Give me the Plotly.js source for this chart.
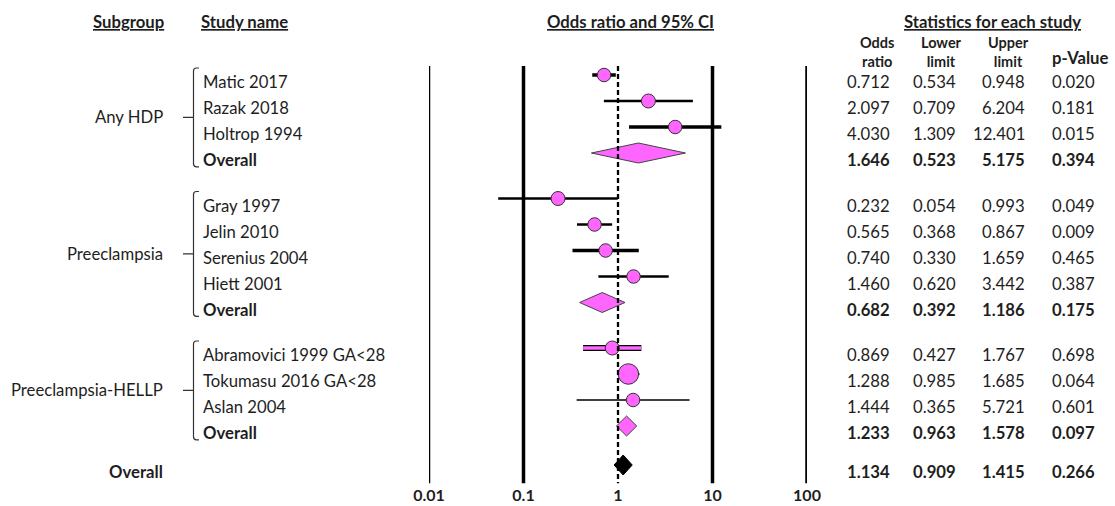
<!DOCTYPE html>
<html>
<head>
<meta charset="utf-8">
<script src="https://cdn.plot.ly/plotly-3.0.1.min.js"></script>
<style>html,body{margin:0;padding:0;background:#fff;}#chart{width:1115px;height:506px;}</style>
</head>
<body>
<div id="chart"></div>
<script>
// ---------------- data ----------------
const groups = ['Any HDP', 'Preeclampsia', 'Preeclampsia-HELLP'];
const studies = ['Matic 2017', 'Razak 2018', 'Holtrop 1994',
  'Gray 1997', 'Jelin 2010', 'Serenius 2004', 'Hiett 2001',
  'Abramovici 1999 GA&lt;28', 'Tokumasu 2016 GA&lt;28', 'Aslan 2004'];
const studyGroup = [0, 0, 0, 1, 1, 1, 1, 2, 2, 2];
const oddsRatio = [0.712, 2.097, 4.030, 0.232, 0.565, 0.740, 1.460, 0.869, 1.288, 1.444];
const lowerLimit = [0.534, 0.709, 1.309, 0.054, 0.368, 0.330, 0.620, 0.427, 0.985, 0.365];
const upperLimit = [0.948, 6.204, 12.401, 0.993, 0.867, 1.659, 3.442, 1.767, 1.685, 5.721];
const pValue = [0.020, 0.181, 0.015, 0.049, 0.009, 0.465, 0.387, 0.698, 0.064, 0.601];
const groupOR = [1.646, 0.682, 1.233];
const groupLower = [0.523, 0.392, 0.963];
const groupUpper = [5.175, 1.186, 1.578];
const groupP = [0.394, 0.175, 0.097];
const overallOR = 1.134, overallLower = 0.909, overallUpper = 1.415, overallP = 0.266;
const tickVals = [0.01, 0.1, 1, 10, 100];
const tickLabels = ['0.01', '0.1', '1', '10', '100'];

// ---------------- styles (not data) ----------------
const barWidth = [3.5, 2.3, 3.7, 2.3, 2.3, 3.5, 2.7, 0, 2.3, 1.7];
const markerSize = [13.5, 14, 13.5, 14, 13.5, 13.5, 13.5, 14, 20.5, 13.5];
const PINK = '#FF66FF', OUT = '#333333', TXT = '#1e1e1e';
const FONT = 'Lato, "Open Sans", sans-serif';
const FS = 16.7;
const W = 1115, H = 506, ROW_PX = 26, ROW0_PX = 75;
const TXT_OFF = 7 / ROW_PX;
const px = p => p / W;
const pyp = p => 1 - p / H;

// ---------------- row layout ----------------
const studyRow = [], groupRow = [];
let r = 0;
groups.forEach((g, gi) => {
  studyGroup.forEach((sg, i) => { if (sg === gi) { studyRow[i] = r; r += 1; } });
  groupRow[gi] = r; r += 1;
  if (gi < groups.length - 1) r += 0.75;
});
const overallRow = r + 0.5;

const traces = [];
const shapes = [];
const ann = [];

// vertical reference lines
const lineTop = -0.35, lineBot = overallRow + 0.7;
tickVals.forEach(v => {
  if (v === 1) return;
  shapes.push({type: 'line', xref: 'x', yref: 'y', x0: v, x1: v, y0: lineTop, y1: lineBot,
    line: {color: '#000', width: v === 0.01 ? 2.5 : 3.5}, layer: 'below'});
});
shapes.push({type: 'line', xref: 'x', yref: 'y', x0: 1, x1: 1, y0: lineTop, y1: lineBot,
  line: {color: '#000', width: 2.3, dash: '5px,3px'}, layer: 'above'});

// CI bars
studies.forEach((s, i) => {
  if (i === 7) {
    traces.push({x: [lowerLimit[i], upperLimit[i]], y: [studyRow[i], studyRow[i]], mode: 'lines',
      line: {color: '#000', width: 6}, hoverinfo: 'skip', showlegend: false});
    traces.push({x: [lowerLimit[i], upperLimit[i]], y: [studyRow[i], studyRow[i]], mode: 'lines',
      line: {color: PINK, width: 3.6}, hoverinfo: 'skip', showlegend: false});
  } else {
    traces.push({x: [lowerLimit[i], upperLimit[i]], y: [studyRow[i], studyRow[i]], mode: 'lines',
      line: {color: '#000', width: barWidth[i]}, hoverinfo: 'skip', showlegend: false});
  }
});
// point estimates
traces.push({x: oddsRatio, y: studyRow, mode: 'markers',
  marker: {size: markerSize, color: PINK, opacity: 1, line: {color: OUT, width: 1}},
  hoverinfo: 'skip', showlegend: false});

// diamonds
const HH = 10 / ROW_PX;
function diamond(lo, est, hi, row, fill) {
  traces.push({x: [lo, est, hi, est, lo], y: [row, row - HH, row, row + HH, row], mode: 'lines',
    fill: 'toself', fillcolor: fill, line: {color: fill === '#000' ? '#000' : '#444', width: 1},
    hoverinfo: 'skip', showlegend: false});
}
groups.forEach((g, gi) => diamond(groupLower[gi], groupOR[gi], groupUpper[gi], groupRow[gi], PINK));
diamond(overallLower, overallOR, overallUpper, overallRow, '#000');

// text helpers
function txt(text, xPx, yRow, anchor, bold, extra) {
  ann.push(Object.assign({text: bold ? '<b>' + text + '</b>' : text, xref: 'paper', yref: 'y',
    x: px(xPx), y: yRow, xanchor: anchor, yanchor: 'middle', showarrow: false,
    font: {family: FONT, size: FS, color: TXT}}, extra || {}));
}
function head(text, xPx, yPx, anchor, size) {
  ann.push({text: '<b>' + text + '</b>', xref: 'paper', yref: 'paper', x: px(xPx), y: pyp(yPx),
    xanchor: anchor, yanchor: 'middle', showarrow: false, borderpad: 0, align: 'center',
    font: {family: FONT, size: size || FS, color: TXT}});
}
const colRight = [892, 958, 1027, 1097];
function stats(vals, row, bold) {
  vals.forEach((v, k) => txt(v.toFixed(3), colRight[k], row + TXT_OFF, 'right', bold));
}

// headers
head('<u>Subgroup</u>', 128, 22, 'center');
head('<u>Study name</u>', 200, 22, 'left');
head('<u>Odds ratio and 95% CI</u>', 631, 22, 'center');
head('<u>Statistics for each study</u>', 992, 22, 'center');
head('Odds<br>ratio', 877, 52, 'center', 14.5);
head('Lower<br>limit', 941, 52, 'center', 14.5);
head('Upper<br>limit', 1008, 52, 'center', 14.5);
head('p-Value', 1080, 58, 'center');

// study rows
studies.forEach((s, i) => {
  txt(s, 201, studyRow[i] + TXT_OFF, 'left', false);
  stats([oddsRatio[i], lowerLimit[i], upperLimit[i], pValue[i]], studyRow[i], false);
});
groups.forEach((g, gi) => {
  txt('Overall', 201, groupRow[gi] + TXT_OFF, 'left', true);
  stats([groupOR[gi], groupLower[gi], groupUpper[gi], groupP[gi]], groupRow[gi], true);
  // bracket
  const first = Math.min.apply(null, studyRow.filter((_, i) => studyGroup[i] === gi));
  const top = first - 0.27, bot = groupRow[gi] + 0.53, mid = (top + bot) / 2;
  const xb = px(193.5), xe = px(199), rr = 3 / ROW_PX, rx = px(3);
  shapes.push({type: 'path', xref: 'paper', yref: 'y', layer: 'above',
    path: `M ${xe},${top} L ${xb + rx},${top} Q ${xb},${top} ${xb},${top + rr} L ${xb},${bot - rr} Q ${xb},${bot} ${xb + rx},${bot} L ${xe},${bot} M ${px(183)},${mid} L ${xb},${mid}`,
    line: {color: '#333', width: 1.2}});
  txt(g, 165, mid, 'right', false);
});
txt('Overall', 165, overallRow + TXT_OFF, 'right', true);
stats([overallOR, overallLower, overallUpper, overallP], overallRow, true);

const layout = {
  width: W, height: H,
  margin: {l: 0, r: 0, t: 0, b: 0, pad: 0},
  paper_bgcolor: '#fff', plot_bgcolor: 'rgba(0,0,0,0)',
  showlegend: false,
  xaxis: {type: 'log', range: [Math.log10(tickVals[0]), Math.log10(tickVals[tickVals.length - 1])],
    domain: [px(429), px(807)], anchor: 'free', position: 1 - 484 / H, ticklabelstandoff: 0,
    tickmode: 'array', tickvals: tickVals, ticktext: tickLabels.map(t => '<b>' + t + '</b>'),
    tickfont: {family: FONT, size: 16, color: TXT}, ticks: '', showgrid: false, zeroline: false,
    showline: false, fixedrange: true},
  yaxis: {range: [(H - ROW0_PX) / ROW_PX, -ROW0_PX / ROW_PX], domain: [0, 1], visible: false,
    showgrid: false, zeroline: false, fixedrange: true},
  shapes: shapes,
  annotations: ann
};
Plotly.newPlot('chart', traces, layout, {displayModeBar: false, staticPlot: true});
</script>
</body>
</html>
